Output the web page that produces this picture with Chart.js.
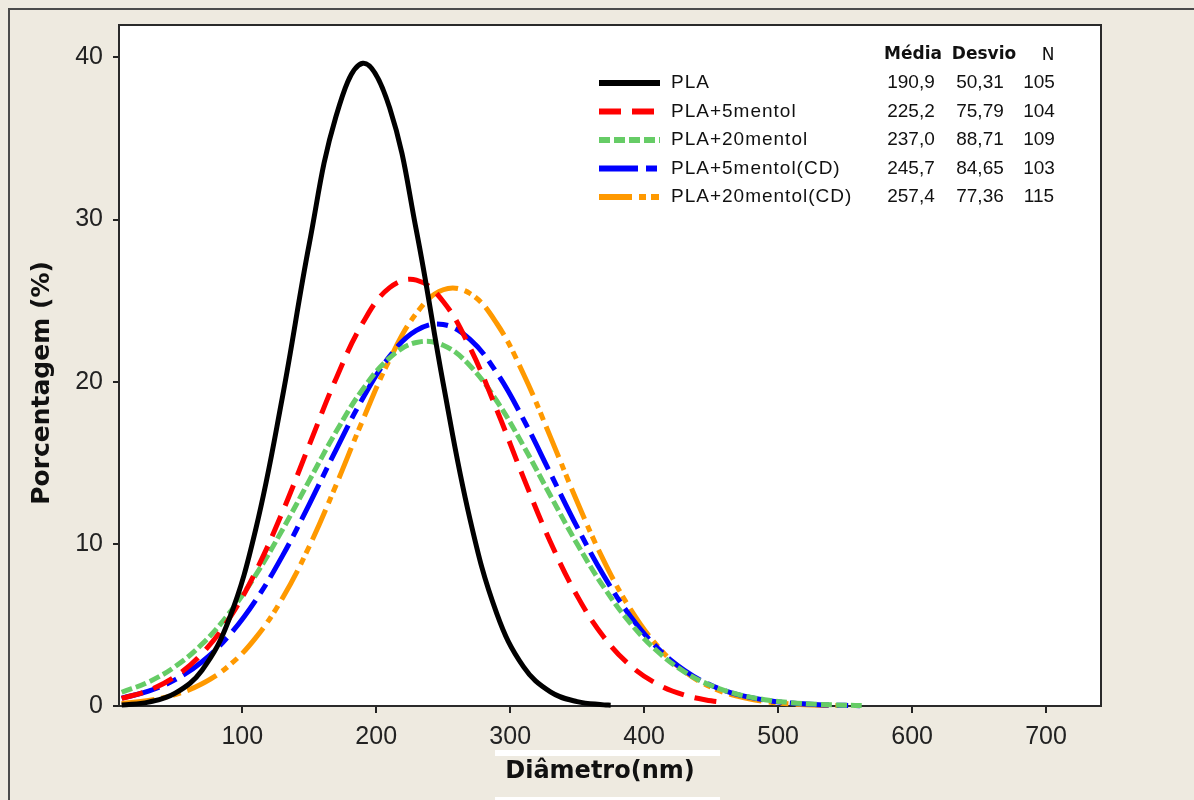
<!DOCTYPE html>
<html>
<head>
<meta charset="utf-8">
<script src="https://cdn.jsdelivr.net/npm/chart.js@4.4.1/dist/chart.umd.min.js"></script>
<style>
  html, body { margin: 0; padding: 0; background: #eeeae0; }
  canvas { display: block; }
</style>
</head>
<body>
<canvas id="grafico" width="1194" height="800"></canvas>
<script>
// ============================================================
//  Distribuição de diâmetros — curvas normais ajustadas
// ============================================================

// diâmetro (nm) onde cada curva foi lida, de 20 em 20
const diametro = [10, 30, 50, 70, 90, 110, 130, 150, 170, 190, 210, 230, 250, 270,
  290, 310, 330, 350, 370, 390, 410, 430, 450, 470, 490, 510, 530, 550];

const nomes = ['PLA', 'PLA+5mentol', 'PLA+20mentol', 'PLA+5mentol(CD)', 'PLA+20mentol(CD)'];
const medias = ['190,9', '225,2', '237,0', '245,7', '257,4'];
const desvios = ['50,31', '75,79', '88,71', '84,65', '77,36'];
const ns = ['105', '104', '109', '103', '115'];

// porcentagem (%) lida em cada diâmetro
const pla = [0.06, 0.24, 0.79, 2.21, 5.31, 10.88, 19.06, 28.49, 36.37, 39.64, 36.89, 29.31, 19.89,
  11.52, 5.70, 2.41, 0.87, 0.27, 0.07];
const pla5 = [0.47, 0.96, 1.82, 3.24, 5.36, 8.29, 11.96, 16.09, 20.19, 23.63, 25.80, 26.27, 24.95,
  22.10, 18.26, 14.07, 10.12, 6.79, 4.24, 2.47, 1.35, 0.68, 0.32];
const pla20 = [0.85, 1.48, 2.44, 3.82, 5.70, 8.07, 10.87, 13.90, 16.91, 19.54, 21.47, 22.42, 22.25,
  20.98, 18.81, 16.03, 12.98, 9.99, 7.31, 5.08, 3.36, 2.11, 1.26, 0.72, 0.39, 0.20, 0.10, 0.05];
const pla5cd = [0.49, 0.92, 1.63, 2.73, 4.34, 6.52, 9.26, 12.44, 15.80, 18.98, 21.56, 23.16, 23.53,
  22.61, 20.55, 17.66, 14.35, 11.03, 8.02, 5.51, 3.58, 2.20, 1.28, 0.70, 0.37, 0.18, 0.08, 0.04];
const pla20cd = [0.16, 0.34, 0.71, 1.37, 2.48, 4.20, 6.65, 9.84, 13.62, 17.64, 21.37, 24.22, 25.67,
  25.44, 23.59, 20.46, 16.60, 12.60, 8.94, 5.94, 3.69, 2.14, 1.16, 0.59, 0.28, 0.13, 0.05];

// último ponto de cada curva
const fimX = [375, 460, 565, 561, 545];
const fimY = [0.05, 0.22, 0.02, 0.02, 0.03];

const xTicks = [100, 200, 300, 400, 500, 600, 700];
const yTicks = [0, 10, 20, 30, 40];

const series = [pla, pla5, pla20, pla5cd, pla20cd];
const cores = ['#000000', '#ff0000', '#66cc66', '#0000ff', '#ff9900'];
const tracos = [[], [22, 11], [11, 4], [39, 8, 11, 8], [33, 7, 7, 5, 8, 7]];

function pontos(ys, i) {
  const p = ys.map((y, k) => ({ x: diametro[k], y }));
  p.push({ x: fimX[i], y: fimY[i] });
  return p;
}

const datasets = series.map((ys, i) => ({
  label: nomes[i],
  data: pontos(ys, i),
  borderColor: cores[i],
  borderWidth: 5,
  borderDash: tracos[i],
  borderCapStyle: 'butt',
  pointRadius: 0,
  tension: 0.4,
  fill: false,
  clip: false
}));

const fundo = {
  id: 'fundo',
  beforeDraw(chart) {
    const { ctx, chartArea: a } = chart;
    ctx.save();
    ctx.fillStyle = '#eeeae0';
    ctx.fillRect(0, 0, chart.width, chart.height);
    ctx.strokeStyle = '#4a4a4a';
    ctx.lineWidth = 2;
    ctx.beginPath();
    ctx.moveTo(9, chart.height); ctx.lineTo(9, 9); ctx.lineTo(chart.width, 9);
    ctx.stroke();
    ctx.fillStyle = '#ffffff';
    ctx.fillRect(a.left, a.top, a.right - a.left, a.bottom - a.top);
    ctx.restore();
  },
  beforeDatasetsDraw(chart) {
    const { ctx, chartArea: a } = chart;
    ctx.save();
    ctx.strokeStyle = '#2a2a2a';
    ctx.lineWidth = 2;
    ctx.strokeRect(a.left, a.top, a.right - a.left, a.bottom - a.top);
    ctx.restore();
  },
  afterDraw(chart) {
    const ctx = chart.ctx;
    ctx.save();
    // títulos dos eixos
    ctx.fillStyle = '#111';
    ctx.textAlign = 'center';
    ctx.textBaseline = 'middle';
    ctx.font = 'bold 24px "DejaVu Sans"';
    ctx.fillText('Diâmetro(nm)', 600, 772);
    ctx.save();
    ctx.translate(42, 383);
    ctx.rotate(-Math.PI / 2);
    ctx.font = 'bold 25px "DejaVu Sans"';
    ctx.fillText('Porcentagem (%)', 0, 0);
    ctx.restore();

    // faixas brancas sob o eixo x
    ctx.fillStyle = '#ffffff';
    ctx.fillRect(495, 750, 225, 6);
    ctx.fillRect(495, 797, 225, 3);

    // legenda com a tabela
    ctx.fillStyle = '#111';
    ctx.font = 'bold 17px "DejaVu Sans"';
    ctx.fillText('Média', 913, 55);
    ctx.fillText('Desvio', 984, 55);
    ctx.font = '17px "DejaVu Sans"';
    ctx.fillText('N', 1048, 56);
    nomes.forEach((nome, i) => {
      const y = 83 + i * 28.5;
      ctx.strokeStyle = cores[i];
      ctx.lineWidth = 6;
      ctx.setLineDash(tracos[i]);
      ctx.beginPath(); ctx.moveTo(599, y); ctx.lineTo(660, y); ctx.stroke();
      ctx.setLineDash([]);
      ctx.fillStyle = '#111';
      ctx.font = '19px "Liberation Sans"';
      ctx.textAlign = 'left';
      ctx.letterSpacing = '1px';
      ctx.fillText(nome, 671, y);
      ctx.letterSpacing = '0px';
      ctx.textAlign = 'center';
      ctx.fillText(medias[i], 911, y);
      ctx.fillText(desvios[i], 980, y);
      ctx.fillText(ns[i], 1039, y);
    });
    ctx.restore();
  }
};

new Chart(document.getElementById('grafico'), {
  type: 'line',
  data: { datasets },
  plugins: [fundo],
  options: {
    responsive: false,
    animation: false,
    devicePixelRatio: 1,
    layout: { padding: { top: 24, right: 93, left: 0, bottom: 0 } },
    plugins: { legend: { display: false }, tooltip: { enabled: false } },
    scales: {
      x: {
        type: 'linear',
        min: 8,
        max: 741,
        afterFit: s => { s.height = 94; },
        afterBuildTicks: s => { s.ticks = xTicks.map(v => ({ value: v })); },
        ticks: { color: '#222', font: { family: 'Liberation Sans', size: 25 }, padding: 9, maxRotation: 0, autoSkip: false },
        grid: { drawOnChartArea: false, drawTicks: true, tickLength: 7, color: '#222', lineWidth: 2 },
        border: { display: false }
      },
      y: {
        min: 0,
        max: 42,
        afterFit: s => { s.width = 119; },
        afterBuildTicks: s => { s.ticks = yTicks.map(v => ({ value: v })); },
        ticks: { color: '#222', font: { family: 'Liberation Sans', size: 25 }, padding: 10 },
        grid: { drawOnChartArea: false, drawTicks: true, tickLength: 6, color: '#222', lineWidth: 2 },
        border: { display: false }
      }
    }
  }
});
</script>
</body>
</html>
